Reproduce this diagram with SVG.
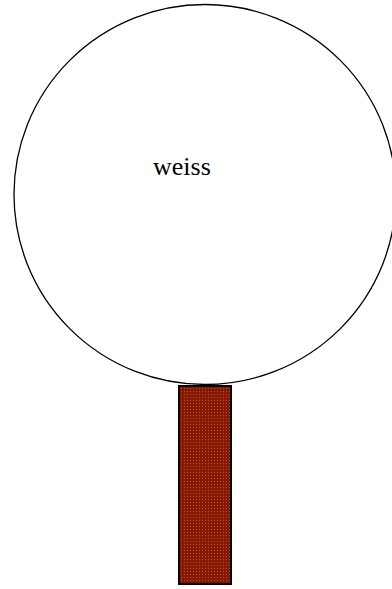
<svg xmlns="http://www.w3.org/2000/svg" width="392" height="589" viewBox="0 0 392 589">
<defs>
<pattern id="dots" width="3" height="3" patternUnits="userSpaceOnUse">
<rect width="3" height="3" fill="#8b1500"/>
<rect x="1" y="1" width="1" height="1" fill="#8a7000"/>
</pattern>
<style>
.outline{fill:#fff;stroke:#000;stroke-width:1.3}
.stem{fill:url(#dots);stroke:#000;stroke-width:2}
.label{font-family:"Liberation Serif","Times New Roman",serif;font-size:26px;fill:#000}
</style>
</defs>
<rect width="392" height="589" fill="#fff"/>
<g id="stick">
<rect class="stem" x="179" y="386" width="52" height="198"/>
</g>
<g id="head">
<ellipse class="outline" cx="205" cy="194.5" rx="191" ry="190"/>
<text class="label" x="153" y="175">weiss</text>
</g>
</svg>
